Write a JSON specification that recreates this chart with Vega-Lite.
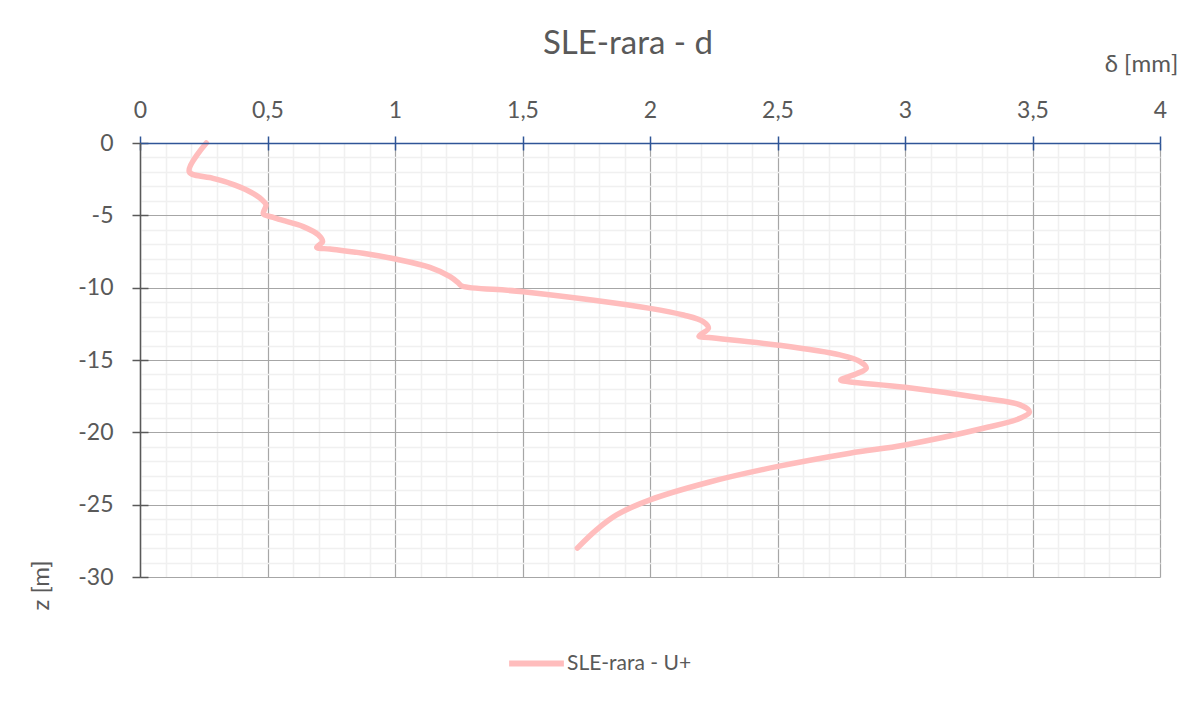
{
  "$schema": "https://vega.github.io/schema/vega-lite/v6.json",
  "autosize": {"type": "none"},
  "padding": {"left": 140, "top": 143, "right": 32, "bottom": 126},
  "width": 1020,
  "height": 434,
  "background": "white",
  "config": {"view": {"stroke": null}, "font": "Lato"},
  "title": {
    "text": "SLE-rara - d",
    "font": "Lato",
    "fontSize": 33,
    "fontWeight": "normal",
    "color": "#595959",
    "anchor": "middle",
    "frame": "group",
    "dx": -22,
    "dy": 9,
    "offset": 0
  },
  "data": {
    "values": [
      {"i": 0, "d": 0.26, "z": 0, "serie": "SLE-rara - U+"},
      {"i": 1, "d": 0.193, "z": -1.98, "serie": "SLE-rara - U+"},
      {"i": 2, "d": 0.286, "z": -2.44, "serie": "SLE-rara - U+"},
      {"i": 3, "d": 0.353, "z": -2.79, "serie": "SLE-rara - U+"},
      {"i": 4, "d": 0.418, "z": -3.25, "serie": "SLE-rara - U+"},
      {"i": 5, "d": 0.47, "z": -3.8, "serie": "SLE-rara - U+"},
      {"i": 6, "d": 0.494, "z": -4.28, "serie": "SLE-rara - U+"},
      {"i": 7, "d": 0.487, "z": -4.65, "serie": "SLE-rara - U+"},
      {"i": 8, "d": 0.484, "z": -4.92, "serie": "SLE-rara - U+"},
      {"i": 9, "d": 0.523, "z": -5.14, "serie": "SLE-rara - U+"},
      {"i": 10, "d": 0.55, "z": -5.3, "serie": "SLE-rara - U+"},
      {"i": 11, "d": 0.64, "z": -5.78, "serie": "SLE-rara - U+"},
      {"i": 12, "d": 0.7, "z": -6.36, "serie": "SLE-rara - U+"},
      {"i": 13, "d": 0.716, "z": -6.82, "serie": "SLE-rara - U+"},
      {"i": 14, "d": 0.693, "z": -7.21, "serie": "SLE-rara - U+"},
      {"i": 15, "d": 0.745, "z": -7.33, "serie": "SLE-rara - U+"},
      {"i": 16, "d": 0.875, "z": -7.62, "serie": "SLE-rara - U+"},
      {"i": 17, "d": 1.007, "z": -8.04, "serie": "SLE-rara - U+"},
      {"i": 18, "d": 1.137, "z": -8.6, "serie": "SLE-rara - U+"},
      {"i": 19, "d": 1.216, "z": -9.24, "serie": "SLE-rara - U+"},
      {"i": 20, "d": 1.25, "z": -9.7, "serie": "SLE-rara - U+"},
      {"i": 21, "d": 1.262, "z": -9.88, "serie": "SLE-rara - U+"},
      {"i": 22, "d": 1.503, "z": -10.28, "serie": "SLE-rara - U+"},
      {"i": 23, "d": 2.0, "z": -11.43, "serie": "SLE-rara - U+"},
      {"i": 24, "d": 2.131, "z": -11.89, "serie": "SLE-rara - U+"},
      {"i": 25, "d": 2.209, "z": -12.35, "serie": "SLE-rara - U+"},
      {"i": 26, "d": 2.229, "z": -12.8, "serie": "SLE-rara - U+"},
      {"i": 27, "d": 2.192, "z": -13.36, "serie": "SLE-rara - U+"},
      {"i": 28, "d": 2.23, "z": -13.45, "serie": "SLE-rara - U+"},
      {"i": 29, "d": 2.497, "z": -13.96, "serie": "SLE-rara - U+"},
      {"i": 30, "d": 2.745, "z": -14.65, "serie": "SLE-rara - U+"},
      {"i": 31, "d": 2.824, "z": -15.11, "serie": "SLE-rara - U+"},
      {"i": 32, "d": 2.848, "z": -15.57, "serie": "SLE-rara - U+"},
      {"i": 33, "d": 2.81, "z": -15.95, "serie": "SLE-rara - U+"},
      {"i": 34, "d": 2.748, "z": -16.38, "serie": "SLE-rara - U+"},
      {"i": 35, "d": 2.78, "z": -16.5, "serie": "SLE-rara - U+"},
      {"i": 36, "d": 3.0, "z": -16.88, "serie": "SLE-rara - U+"},
      {"i": 37, "d": 3.307, "z": -17.64, "serie": "SLE-rara - U+"},
      {"i": 38, "d": 3.451, "z": -18.1, "serie": "SLE-rara - U+"},
      {"i": 39, "d": 3.488, "z": -18.57, "serie": "SLE-rara - U+"},
      {"i": 40, "d": 3.451, "z": -19.03, "serie": "SLE-rara - U+"},
      {"i": 41, "d": 3.307, "z": -19.72, "serie": "SLE-rara - U+"},
      {"i": 42, "d": 3.0, "z": -20.87, "serie": "SLE-rara - U+"},
      {"i": 43, "d": 2.784, "z": -21.44, "serie": "SLE-rara - U+"},
      {"i": 44, "d": 2.497, "z": -22.37, "serie": "SLE-rara - U+"},
      {"i": 45, "d": 2.23, "z": -23.45, "serie": "SLE-rara - U+"},
      {"i": 46, "d": 2.0, "z": -24.67, "serie": "SLE-rara - U+"},
      {"i": 47, "d": 1.869, "z": -25.71, "serie": "SLE-rara - U+"},
      {"i": 48, "d": 1.79, "z": -26.74, "serie": "SLE-rara - U+"},
      {"i": 49, "d": 1.715, "z": -28.0, "serie": "SLE-rara - U+"}
    ]
  },
  "layer": [
    {
      "mark": {"type": "point", "opacity": 0},
      "encoding": {
        "x": {
          "field": "d", "type": "quantitative",
          "scale": {"domain": [0, 4], "nice": false, "zero": false},
          "axis": {
            "orient": "top", "title": null, "labels": false, "ticks": false, "domain": false,
            "grid": true, "gridColor": "#F0F0F0", "gridWidth": 1.5,
            "values": [0.1,0.2,0.3,0.4,0.6,0.7,0.8,0.9,1.1,1.2,1.3,1.4,1.6,1.7,1.8,1.9,2.1,2.2,2.3,2.4,2.6,2.7,2.8,2.9,3.1,3.2,3.3,3.4,3.6,3.7,3.8,3.9]
          }
        },
        "y": {
          "field": "z", "type": "quantitative",
          "scale": {"domain": [-30, 0], "nice": false, "zero": false},
          "axis": {
            "orient": "left", "title": null, "labels": false, "ticks": false, "domain": false,
            "grid": true, "gridColor": "#F0F0F0", "gridWidth": 1.5,
            "values": [-1,-2,-3,-4,-6,-7,-8,-9,-11,-12,-13,-14,-16,-17,-18,-19,-21,-22,-23,-24,-26,-27,-28,-29]
          }
        }
      }
    },
    {
      "mark": {"type": "point", "opacity": 0},
      "encoding": {
        "x": {
          "field": "d", "type": "quantitative",
          "scale": {"domain": [0, 4], "nice": false, "zero": false},
          "axis": {
            "orient": "top", "title": null, "labels": false, "domain": false,
            "ticks": true, "tickSize": -7, "tickColor": "#2F5597", "tickWidth": 1.5,
            "grid": true, "gridColor": "#A6A6A6", "gridWidth": 1.2,
            "values": [0, 0.5, 1, 1.5, 2, 2.5, 3, 3.5, 4]
          }
        },
        "y": {
          "field": "z", "type": "quantitative",
          "scale": {"domain": [-30, 0], "nice": false, "zero": false},
          "axis": {
            "orient": "left", "title": null, "labels": false, "domain": false,
            "ticks": true, "tickSize": -8, "tickColor": "#595959", "tickWidth": 1.5,
            "grid": true, "gridColor": "#A6A6A6", "gridWidth": 1.2,
            "values": [0, -5, -10, -15, -20, -25, -30]
          }
        }
      }
    },
    {
      "mark": {"type": "line", "interpolate": "catmull-rom", "strokeWidth": 5.5, "strokeCap": "round", "strokeJoin": "round"},
      "encoding": {
        "order": {"field": "i", "type": "quantitative"},
        "color": {
          "field": "serie", "type": "nominal",
          "scale": {"range": ["#FFBDBD"]},
          "legend": {
            "orient": "none", "legendX": 366, "legendY": 490, "title": null,
            "symbolType": "stroke", "symbolSize": 3000, "symbolStrokeWidth": 6,
            "labelFont": "Lato", "labelFontSize": 21, "labelColor": "#595959", "labelOffset": 0,
            "padding": 0
          }
        },
        "x": {
          "field": "d", "type": "quantitative",
          "scale": {"domain": [0, 4], "nice": false, "zero": false},
          "axis": {
            "orient": "top", "grid": false, "zindex": 1,
            "values": [0, 0.5, 1, 1.5, 2, 2.5, 3, 3.5, 4],
            "domainColor": "#2F5597", "domainWidth": 1.5,
            "tickColor": "#2F5597", "tickWidth": 1.5, "tickSize": 7,
            "labelFont": "Lato", "labelFontSize": 23, "labelColor": "#595959", "labelPadding": 14,
            "labelFlush": false, "labelOverlap": false,
            "labelExpr": "replace(format(datum.value, '~g'), '.', ',')",
            "title": "δ [mm]", "titleX": 1001, "titleY": -79,
            "titleFont": "Lato", "titleFontSize": 24, "titleFontWeight": "normal", "titleColor": "#595959",
            "titleAlign": "center", "titleBaseline": "middle"
          }
        },
        "y": {
          "field": "z", "type": "quantitative",
          "scale": {"domain": [-30, 0], "nice": false, "zero": false},
          "axis": {
            "orient": "left", "grid": false, "zindex": 1,
            "values": [0, -5, -10, -15, -20, -25, -30],
            "domainColor": "#595959", "domainWidth": 1.5,
            "tickColor": "#595959", "tickWidth": 1.5, "tickSize": 8,
            "labelFont": "Lato", "labelFontSize": 23, "labelColor": "#595959", "labelPadding": 19,
            "labelFlush": false, "labelOverlap": false,
            "labelExpr": "replace(datum.label, '−', '-')",
            "title": "z [m]", "titleX": -99, "titleY": 442, "titleAngle": 270,
            "titleFont": "Lato", "titleFontSize": 24, "titleFontWeight": "normal", "titleColor": "#595959",
            "titleAlign": "center", "titleBaseline": "middle"
          }
        }
      }
    }
  ],
  "resolve": {"axis": {"x": "independent", "y": "independent"}}
}
